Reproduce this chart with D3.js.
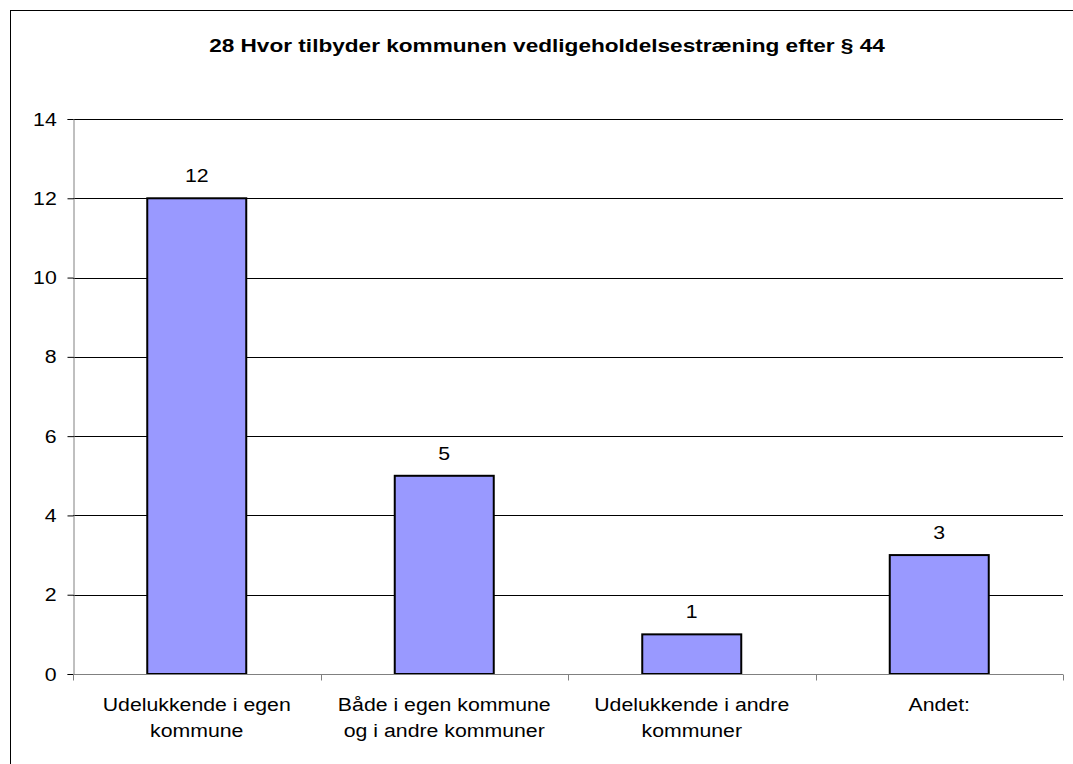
<!DOCTYPE html>
<html>
<head>
<meta charset="utf-8">
<script src="https://cdn.jsdelivr.net/npm/d3@7"></script>
<style>
  body { margin: 0; background: #fff; }
  text { font-family: Arial, "Liberation Sans", sans-serif; fill: #000; }
</style>
</head>
<body>
<svg id="chart" width="1073" height="764"></svg>
<script>
// data
var categories = [
  ["Udelukkende i egen", "kommune"],
  ["Både i egen kommune", "og i andre kommuner"],
  ["Udelukkende i andre", "kommuner"],
  ["Andet:"]
];
var values = [12, 5, 1, 3];
var yTicks = [0, 2, 4, 6, 8, 10, 12, 14];
var title = "28 Hvor tilbyder kommunen vedligeholdelsestræning efter § 44";

var svg = d3.select("#chart");
var sx = 1.12; // text in the reference is a little wider than Arial

// outer chart border (runs off the right / bottom edge)
svg.append("rect")
   .attr("x", 10.5).attr("y", 10.5)
   .attr("width", 1100).attr("height", 800)
   .attr("fill", "#fff")
   .attr("stroke", "#000")
   .attr("stroke-width", 1);

svg.append("text")
   .attr("transform", "translate(547,52) scale(1.19,1)")
   .attr("text-anchor", "middle")
   .attr("font-size", "19px")
   .attr("font-weight", "bold")
   .text(title);

var pLeft = 73, pRight = 1063, pTop = 119, pBottom = 674;

var x = d3.scaleBand().domain(d3.range(values.length)).range([pLeft, pRight]);
var y = d3.scaleLinear().domain([0, 14]).range([pBottom, pTop]);

var g = svg.append("g");

// gridlines
g.selectAll(".grid")
 .data(yTicks.filter(function(d) { return d > 0; }))
 .enter().append("line")
 .attr("x1", pLeft).attr("x2", pRight)
 .attr("y1", function(d) { return Math.round(y(d)) + 0.5; })
 .attr("y2", function(d) { return Math.round(y(d)) + 0.5; })
 .attr("stroke", "#000")
 .attr("stroke-width", 1);

// y axis
var yAxis = g.append("g")
  .attr("transform", "translate(" + (pLeft + 0.5) + ",0)")
  .call(d3.axisLeft(y).tickValues(yTicks).tickSize(6).tickPadding(9).offset(0.5));
yAxis.select(".domain").attr("stroke", "#808080");
yAxis.selectAll(".tick line").attr("stroke", "#000");
yAxis.selectAll(".tick text")
     .attr("font-size", "19px")
     .attr("font-family", "Arial, 'Liberation Sans', sans-serif")
     .attr("fill", "#000")
     .attr("transform", "scale(" + sx + ",1)");

// bars
var bw = 99;
g.selectAll(".bar")
 .data(values)
 .enter().append("rect")
 .attr("x", function(d, i) { return x(i) + x.bandwidth() / 2 - bw / 2; })
 .attr("y", function(d) { return y(d); })
 .attr("width", bw)
 .attr("height", function(d) { return y(0) - y(d); })
 .attr("fill", "#9999ff")
 .attr("stroke", "#000")
 .attr("stroke-width", 2);

// x axis
var xAxisG = g.append("g").attr("transform", "translate(0," + (pBottom + 0.5) + ")");
xAxisG.append("line")
  .attr("x1", pLeft).attr("x2", pRight)
  .attr("stroke", "#808080");
xAxisG.selectAll(".xtick")
  .data(d3.range(values.length + 1))
  .enter().append("line")
  .attr("x1", function(d) { return Math.round(pLeft + d * x.step()) + 0.5; })
  .attr("x2", function(d) { return Math.round(pLeft + d * x.step()) + 0.5; })
  .attr("y1", 0).attr("y2", 6)
  .attr("stroke", "#808080");

// value labels
g.selectAll(".val")
 .data(values)
 .enter().append("text")
 .attr("transform", function(d, i) {
   return "translate(" + (x(i) + x.bandwidth() / 2) + "," + (y(d) - 16) + ") scale(" + sx + ",1)";
 })
 .attr("text-anchor", "middle")
 .attr("font-size", "19px")
 .text(function(d) { return d; });

// category labels
var cl = g.selectAll(".cat")
 .data(categories)
 .enter().append("text")
 .attr("text-anchor", "middle")
 .attr("font-size", "19px")
 .attr("transform", function(d, i) {
   return "translate(" + (x(i) + x.bandwidth() / 2) + ",711) scale(" + sx + ",1)";
 });
cl.selectAll("tspan")
  .data(function(d) { return d; })
  .enter().append("tspan")
  .attr("x", 0)
  .attr("y", function(d, i) { return i * 26; })
  .text(function(d) { return d; });
</script>
</body>
</html>
